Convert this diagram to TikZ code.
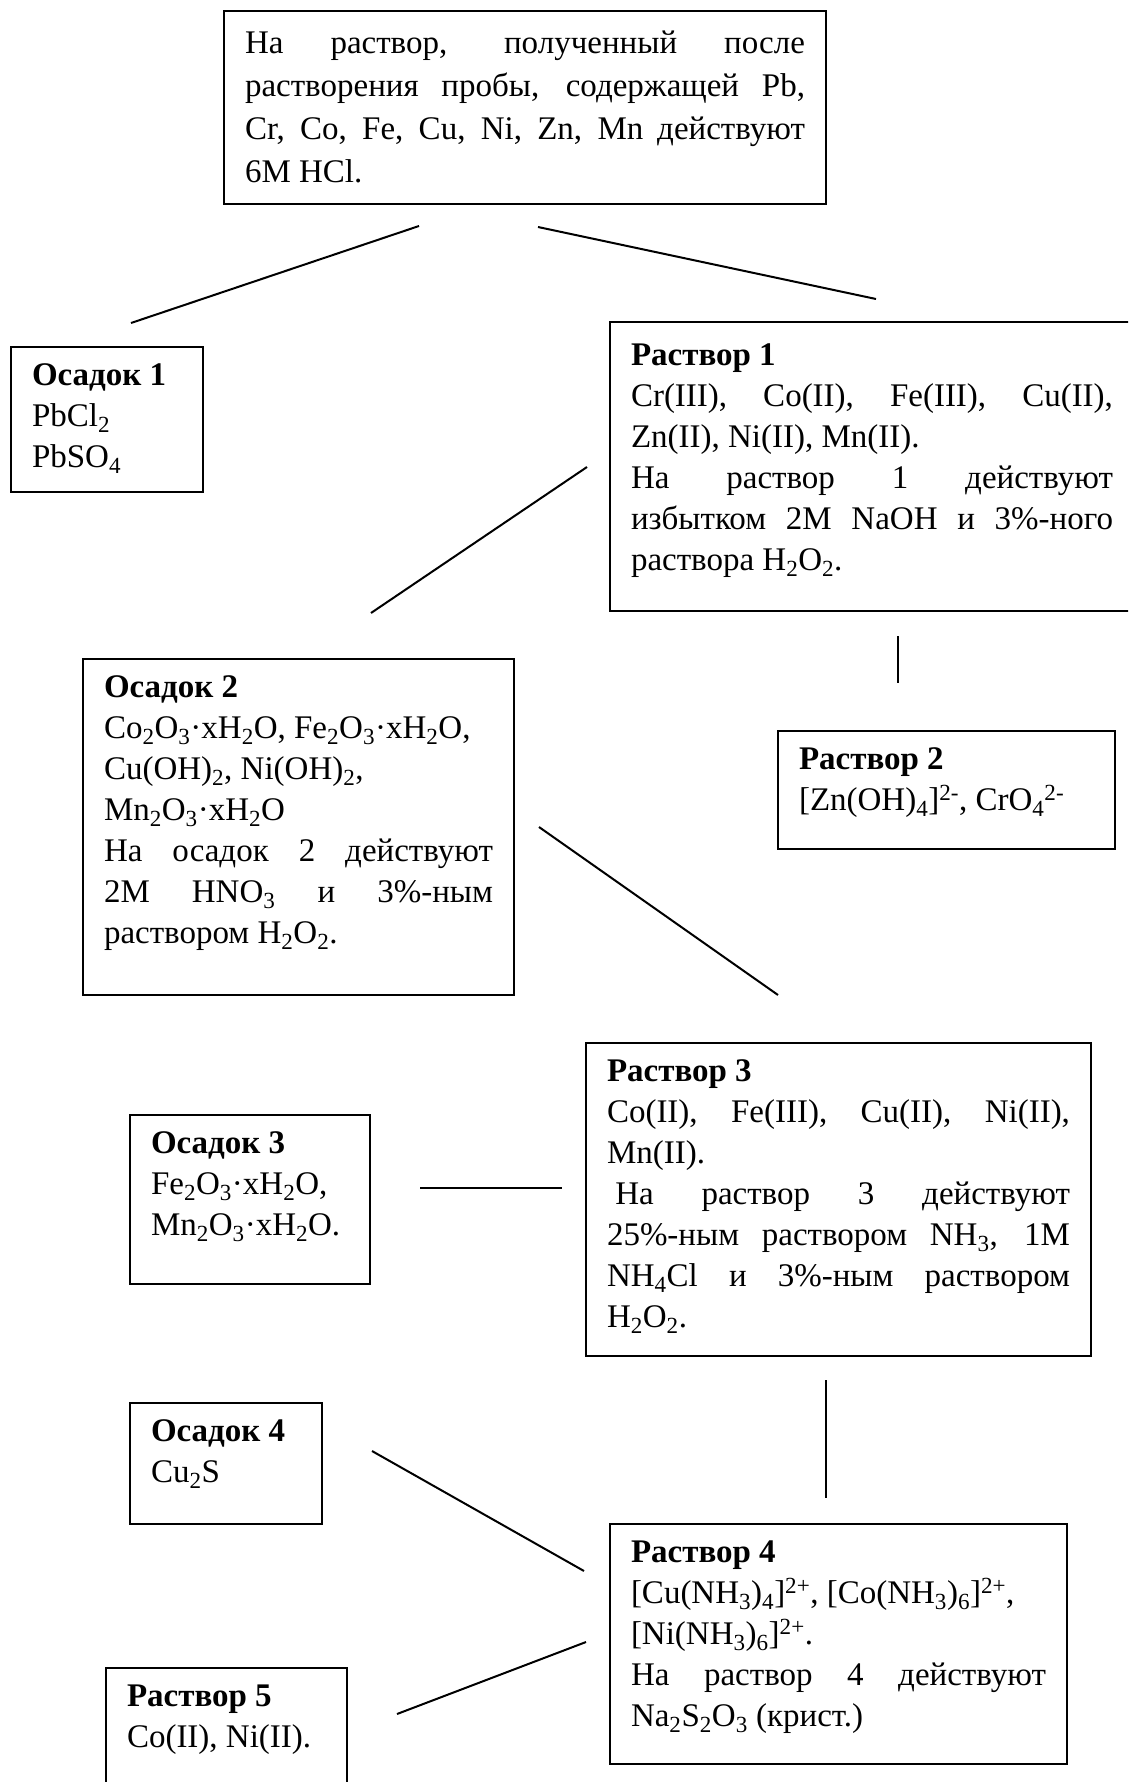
\documentclass[tikz,border=0pt]{standalone}
\usepackage{fontspec}
\setmainfont{Liberation Serif}
\usetikzlibrary{
    positioning
}
\tikzset{%
    scheme box/.style={%
        draw,
        line width=2.5pt,
        anchor=north west,
        inner xsep=21pt,
        inner ysep=0pt,
        outer sep=0pt,
        font=\fontsize{33}{41}\selectfont
    },
    link/.style={%
        line width=2pt,
    },
}
\newcommand{\boxbody}[4][38pt]{\parbox[t][#3][t]{#2}{\rule{0pt}{#1}#4}}
\newcommand{\lo}[1]{\textsubscript{#1}}
\newcommand{\hi}[1]{\textsuperscript{#1}}

\begin{document}
\begin{tikzpicture}[x=1pt,y=-1pt]

    \clip (0,0) rectangle (1128,1782);

    \node[scheme box] (start) at (224,11) {\boxbody[43pt]{560pt}{193pt}{%
        \baselineskip=43pt
        На раствор, полученный после\linebreak
        растворения пробы, содержащей Pb,\linebreak
        Cr, Co, Fe, Cu, Ni, Zn, Mn действуют\linebreak
        6M HCl.}};

    \node[scheme box] (osadok1) at (11,347) {\boxbody{150pt}{145pt}{%
        \textbf{Осадок 1}\\
        PbCl\lo{2}\\
        PbSO\lo{4}}};

    \node[scheme box] (rastvor1) at (610,322) {\boxbody[43pt]{482pt}{289pt}{%
        \textbf{Раствор 1}\\
        Cr(III), Co(II), Fe(III), Cu(II),\linebreak
        Zn(II), Ni(II), Mn(II).\\
        На раствор 1 действуют\linebreak
        избытком 2M NaOH и 3\%-ного\linebreak
        раствора H\lo{2}O\lo{2}.}};

    \node[scheme box] (osadok2) at (83,659) {\boxbody{389pt}{336pt}{%
        \textbf{Осадок 2}\\
        Co\lo{2}O\lo{3}·xH\lo{2}O, Fe\lo{2}O\lo{3}·xH\lo{2}O,\\
        Cu(OH)\lo{2}, Ni(OH)\lo{2},\\
        Mn\lo{2}O\lo{3}·xH\lo{2}O\\
        На осадок 2 действуют\linebreak
        2M HNO\lo{3} и 3\%-ным\linebreak
        раствором H\lo{2}O\lo{2}.}};

    \node[scheme box] (rastvor2) at (778,731) {\boxbody{295pt}{118pt}{%
        \textbf{Раствор 2}\\
        {[}Zn(OH)\lo{4}]\hi{2-}, CrO\lo{4}\hi{2-}}};

    \node[scheme box] (rastvor3) at (586,1043) {\boxbody{463pt}{313pt}{%
        \textbf{Раствор 3}\\
        Co(II), Fe(III), Cu(II), Ni(II),\linebreak
        Mn(II).\\
        \hspace*{0.25em}На раствор 3 действуют\linebreak
        25\%-ным раствором NH\lo{3}, 1M\linebreak
        NH\lo{4}Cl и 3\%-ным раствором\linebreak
        H\lo{2}O\lo{2}.}};

    \node[scheme box] (osadok3) at (130,1115) {\boxbody{198pt}{169pt}{%
        \textbf{Осадок 3}\\
        Fe\lo{2}O\lo{3}·xH\lo{2}O,\\
        Mn\lo{2}O\lo{3}·xH\lo{2}O.}};

    \node[scheme box] (osadok4) at (130,1403) {\boxbody{150pt}{121pt}{%
        \textbf{Осадок 4}\\
        Cu\lo{2}S}};

    \node[scheme box] (rastvor4) at (610,1524) {\boxbody{415pt}{240pt}{%
        \textbf{Раствор 4}\\
        {[}Cu(NH\lo{3})\lo{4}]\hi{2+}, [Co(NH\lo{3})\lo{6}]\hi{2+},\\
        {[}Ni(NH\lo{3})\lo{6}]\hi{2+}.\\
        На раствор 4 действуют\linebreak
        Na\lo{2}S\lo{2}O\lo{3} (крист.)}};

    \node[scheme box] (rastvor5) at (106,1668) {\boxbody{199pt}{200pt}{%
        \textbf{Раствор 5}\\
        Co(II), Ni(II).}};

    % free ends of the connectors
    \coordinate (start-a) at (419,226);
    \coordinate (osadok1-a) at (131,323);
    \coordinate (start-b) at (538,227);
    \coordinate (rastvor1-a) at (876,299);
    \coordinate (rastvor1-b) at (587,467);
    \coordinate (osadok2-a) at (371,613);
    \coordinate (rastvor1-c) at (898,636);
    \coordinate (rastvor2-a) at (898,683);
    \coordinate (osadok2-b) at (539,827);
    \coordinate (rastvor3-a) at (778,995);
    \coordinate (osadok3-a) at (420,1188);
    \coordinate (rastvor3-b) at (562,1188);
    \coordinate (rastvor3-c) at (826,1380);
    \coordinate (rastvor4-a) at (826,1498);
    \coordinate (osadok4-a) at (372,1451);
    \coordinate (rastvor4-b) at (584,1571);
    \coordinate (rastvor4-c) at (586,1642);
    \coordinate (rastvor5-a) at (397,1714);

    \draw[link] (start-a) -- (osadok1-a);
    \draw[link] (start-b) -- (rastvor1-a);
    \draw[link] (rastvor1-b) -- (osadok2-a);
    \draw[link] (rastvor1-c) -- (rastvor2-a);
    \draw[link] (osadok2-b) -- (rastvor3-a);
    \draw[link] (osadok3-a) -- (rastvor3-b);
    \draw[link] (rastvor3-c) -- (rastvor4-a);
    \draw[link] (osadok4-a) -- (rastvor4-b);
    \draw[link] (rastvor4-c) -- (rastvor5-a);
\end{tikzpicture}
\end{document}
